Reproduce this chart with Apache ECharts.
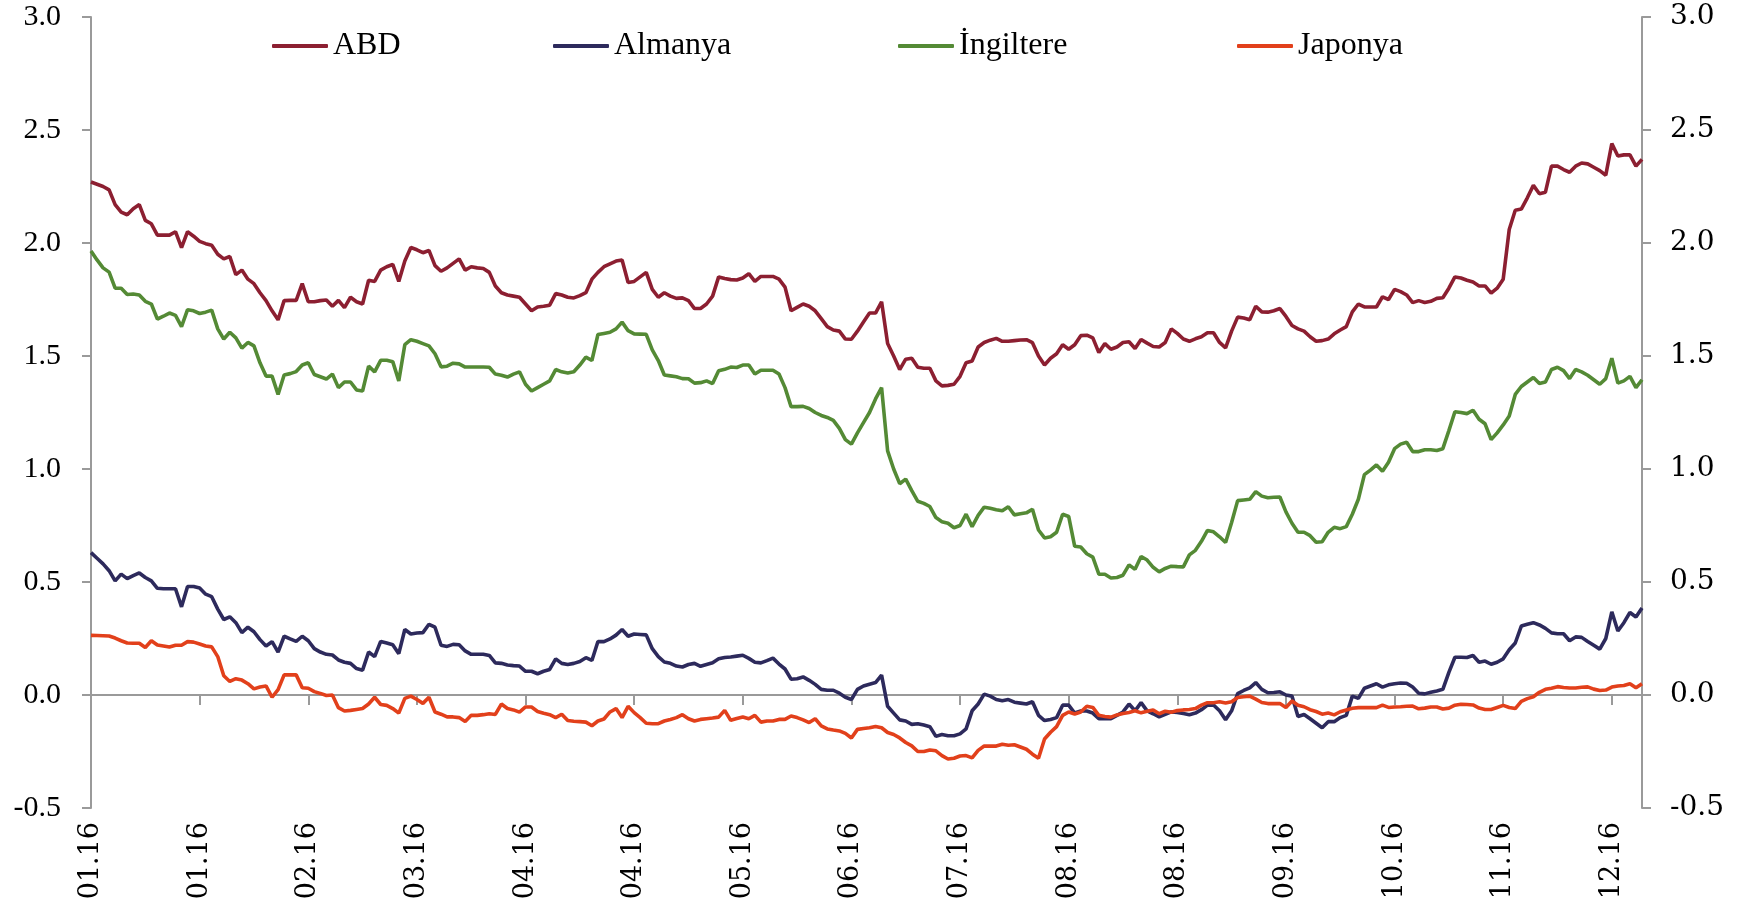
<!DOCTYPE html>
<html>
<head>
<meta charset="utf-8">
<title>Tahvil faizleri 2016</title>
<script src="https://cdn.jsdelivr.net/npm/echarts@6.0.0/dist/echarts.min.js"></script>
<style>
  html, body { margin: 0; padding: 0; background: #ffffff; }
  #root { width: 1742px; height: 911px; }
</style>
</head>
<body>
<div id="root"></div>
<script>
// x axis: one label every 18 trading days
var tickLabels = ['01.16', '01.16', '02.16', '03.16', '04.16', '04.16', '05.16', '06.16',
  '07.16', '08.16', '08.16', '09.16', '10.16', '11.16', '12.16'];
var labelStep = 18;

var seriesNames = ['ABD', 'Almanya', 'İngiltere', 'Japonya'];

var abd = [
  2.27, 2.26, 2.25, 2.235, 2.17, 2.137, 2.125, 2.152, 2.17, 2.10,
  2.085, 2.035, 2.035, 2.035, 2.05, 1.98, 2.05, 2.03, 2.007, 1.997,
  1.99, 1.95, 1.93, 1.94, 1.86, 1.88, 1.84, 1.82, 1.78, 1.745,
  1.70, 1.66, 1.745, 1.746, 1.746, 1.82, 1.74, 1.74, 1.745, 1.748,
  1.72, 1.746, 1.714, 1.76, 1.74, 1.73, 1.835, 1.83, 1.88, 1.895,
  1.905, 1.83, 1.92, 1.98, 1.97, 1.957, 1.967, 1.90, 1.875, 1.89,
  1.91, 1.93, 1.88, 1.895, 1.89, 1.887, 1.87, 1.81, 1.78, 1.77,
  1.765, 1.76, 1.73, 1.70, 1.717, 1.72, 1.725, 1.776, 1.77, 1.76,
  1.757, 1.767, 1.78, 1.84, 1.87, 1.895, 1.908, 1.92, 1.925, 1.825,
  1.83, 1.85, 1.87, 1.795, 1.76, 1.78, 1.765, 1.755, 1.757, 1.745,
  1.71, 1.71, 1.73, 1.765, 1.85, 1.843, 1.838, 1.836, 1.845, 1.864,
  1.83, 1.852, 1.852, 1.852, 1.84, 1.805, 1.70, 1.715, 1.73, 1.72,
  1.70, 1.665, 1.63, 1.615, 1.61, 1.575, 1.574, 1.61, 1.65, 1.69,
  1.69, 1.74, 1.555, 1.50, 1.44, 1.486, 1.49, 1.45, 1.446, 1.446,
  1.39, 1.368, 1.37, 1.375, 1.41, 1.47, 1.478, 1.54, 1.56, 1.57,
  1.578, 1.565, 1.565, 1.568, 1.571, 1.572, 1.559, 1.50, 1.46, 1.49,
  1.51, 1.55, 1.53, 1.55, 1.59, 1.592, 1.58, 1.515, 1.555, 1.53,
  1.54, 1.56, 1.563, 1.533, 1.573, 1.557, 1.542, 1.54, 1.56, 1.62,
  1.60, 1.575, 1.565, 1.576, 1.585, 1.603, 1.603, 1.56, 1.536, 1.61,
  1.672, 1.668, 1.66, 1.72, 1.695, 1.694, 1.70, 1.71, 1.675, 1.635,
  1.62, 1.61, 1.585, 1.565, 1.568, 1.575, 1.598, 1.615, 1.63, 1.695,
  1.73, 1.717, 1.717, 1.717, 1.762, 1.75, 1.795, 1.785, 1.77, 1.736,
  1.745, 1.737, 1.742, 1.755, 1.758, 1.80, 1.85, 1.845, 1.835, 1.827,
  1.81, 1.81, 1.778, 1.80, 1.84, 2.06, 2.145, 2.15, 2.20, 2.255,
  2.218, 2.225, 2.34, 2.34, 2.325, 2.313, 2.34, 2.354, 2.35, 2.335,
  2.32, 2.30, 2.44, 2.385, 2.39, 2.39, 2.34, 2.37
];

var almanya = [
  0.63, 0.605, 0.58, 0.55, 0.505, 0.535, 0.515, 0.528, 0.54, 0.52,
  0.505, 0.472, 0.47, 0.47, 0.47, 0.39, 0.48, 0.48, 0.473, 0.446,
  0.435, 0.38, 0.334, 0.346, 0.32, 0.276, 0.30, 0.28, 0.245, 0.217,
  0.236, 0.19, 0.26, 0.248, 0.237, 0.26, 0.24, 0.205, 0.19, 0.18,
  0.177, 0.155, 0.145, 0.14, 0.117, 0.11, 0.19, 0.17, 0.237, 0.23,
  0.222, 0.183, 0.29, 0.27, 0.274, 0.276, 0.313, 0.30, 0.22, 0.215,
  0.224, 0.222, 0.195, 0.18, 0.18, 0.18, 0.175, 0.142, 0.14, 0.133,
  0.13, 0.128, 0.105, 0.105, 0.094, 0.105, 0.113, 0.16, 0.14, 0.135,
  0.14, 0.148, 0.165, 0.153, 0.237, 0.236, 0.248, 0.265, 0.29, 0.26,
  0.27, 0.268, 0.266, 0.205, 0.17, 0.146, 0.14, 0.128, 0.124, 0.135,
  0.14, 0.127, 0.135, 0.143, 0.16, 0.166, 0.168, 0.172, 0.176, 0.162,
  0.145, 0.142, 0.152, 0.163, 0.137, 0.115, 0.07, 0.072, 0.08, 0.065,
  0.047, 0.025, 0.021, 0.021, 0.008, -0.01, -0.02, 0.025, 0.04, 0.048,
  0.055, 0.088, -0.05, -0.08, -0.11, -0.115, -0.13, -0.127, -0.133, -0.14,
  -0.183, -0.175, -0.18, -0.18, -0.172, -0.15, -0.07, -0.04, 0.004, -0.005,
  -0.02, -0.025, -0.02, -0.032, -0.036, -0.04, -0.03, -0.09, -0.113, -0.108,
  -0.10, -0.045, -0.045, -0.08, -0.071, -0.071, -0.08, -0.105, -0.105, -0.105,
  -0.09, -0.075, -0.04, -0.07, -0.034, -0.07, -0.083, -0.097, -0.086, -0.075,
  -0.077, -0.082, -0.087, -0.08, -0.065, -0.045, -0.044, -0.07, -0.11, -0.07,
  0.006, 0.02, 0.032, 0.055, 0.025, 0.01, 0.011, 0.014, 0.0, -0.005,
  -0.095, -0.086, -0.105, -0.125, -0.145, -0.118, -0.118, -0.10, -0.09, -0.005,
  -0.015, 0.03, 0.04, 0.05, 0.035, 0.045, 0.05, 0.053, 0.052, 0.035,
  0.008, 0.005, 0.012, 0.018, 0.025, 0.10, 0.167, 0.167, 0.166, 0.175,
  0.145, 0.15, 0.136, 0.145, 0.16, 0.20, 0.23, 0.305, 0.313, 0.32,
  0.31, 0.295, 0.275, 0.271, 0.271, 0.24, 0.257, 0.255, 0.237, 0.22,
  0.203, 0.25, 0.368, 0.283, 0.32, 0.365, 0.345, 0.385
];

var ingiltere = [
  1.965, 1.925, 1.89, 1.871, 1.80, 1.80, 1.772, 1.774, 1.77, 1.742,
  1.73, 1.663, 1.676, 1.69, 1.68, 1.63, 1.705, 1.70, 1.688, 1.694,
  1.703, 1.62, 1.575, 1.605, 1.58, 1.535, 1.56, 1.545, 1.47, 1.411,
  1.411, 1.33, 1.416, 1.422, 1.431, 1.46, 1.47, 1.418, 1.408, 1.398,
  1.42, 1.36, 1.385, 1.385, 1.35, 1.345, 1.455, 1.43, 1.481, 1.481,
  1.475, 1.39, 1.55, 1.572, 1.565, 1.555, 1.545, 1.51, 1.452, 1.455,
  1.468, 1.465, 1.451, 1.451, 1.451, 1.451, 1.45, 1.42, 1.415, 1.407,
  1.42, 1.43, 1.375, 1.345, 1.36, 1.375, 1.39, 1.44, 1.43, 1.425,
  1.43, 1.46, 1.495, 1.48, 1.595, 1.60, 1.605, 1.62, 1.65, 1.612,
  1.598, 1.597, 1.596, 1.527, 1.48, 1.416, 1.412, 1.408, 1.40, 1.399,
  1.38, 1.382, 1.39, 1.378, 1.435, 1.441, 1.451, 1.449, 1.46, 1.46,
  1.42, 1.437, 1.437, 1.437, 1.42, 1.36, 1.276, 1.276, 1.277, 1.268,
  1.25, 1.237, 1.228, 1.215, 1.18, 1.13, 1.11, 1.16, 1.205, 1.25,
  1.31, 1.36, 1.08, 1.00, 0.935, 0.955, 0.904, 0.857, 0.848, 0.834,
  0.785, 0.767, 0.76, 0.74, 0.75, 0.80, 0.745, 0.795, 0.831, 0.826,
  0.82, 0.815, 0.833, 0.797, 0.802, 0.806, 0.822, 0.73, 0.695, 0.70,
  0.72, 0.80, 0.79, 0.658, 0.655, 0.625, 0.61, 0.535, 0.534, 0.518,
  0.52, 0.53, 0.576, 0.556, 0.613, 0.597, 0.565, 0.545, 0.56, 0.57,
  0.568, 0.567, 0.62, 0.64, 0.68, 0.728, 0.722, 0.70, 0.675, 0.763,
  0.86, 0.863, 0.866, 0.90, 0.88, 0.873, 0.875, 0.876, 0.81, 0.76,
  0.72, 0.72, 0.705, 0.676, 0.678, 0.72, 0.742, 0.736, 0.745, 0.80,
  0.866, 0.975, 0.995, 1.018, 0.99, 1.03, 1.09, 1.11, 1.118, 1.077,
  1.077, 1.085, 1.085, 1.082, 1.09, 1.17, 1.253, 1.25, 1.245, 1.26,
  1.22, 1.20, 1.13, 1.16, 1.195, 1.235, 1.33, 1.365, 1.385, 1.405,
  1.378, 1.385, 1.44, 1.45, 1.435, 1.40, 1.44, 1.43, 1.415, 1.395,
  1.375, 1.40, 1.49, 1.38, 1.39, 1.41, 1.36, 1.395
];

var japonya = [
  0.264, 0.263, 0.262, 0.261, 0.252, 0.24, 0.23, 0.229, 0.229, 0.21,
  0.24, 0.221, 0.217, 0.212, 0.22, 0.22, 0.236, 0.234, 0.226, 0.217,
  0.213, 0.17, 0.085, 0.06, 0.072, 0.066, 0.05, 0.027, 0.035, 0.04,
  -0.01, 0.024, 0.089, 0.089, 0.089, 0.032, 0.03, 0.015, 0.007, -0.002,
  0.0, -0.056, -0.071, -0.068, -0.064, -0.06, -0.04, -0.01, -0.042, -0.046,
  -0.06, -0.08, -0.015, -0.005, -0.02, -0.037, -0.01, -0.075, -0.085, -0.097,
  -0.097, -0.10, -0.117, -0.09, -0.09, -0.087, -0.083, -0.086, -0.04, -0.06,
  -0.066, -0.076, -0.053, -0.053, -0.073, -0.081, -0.087, -0.10, -0.085, -0.113,
  -0.116, -0.118, -0.12, -0.136, -0.115, -0.106, -0.075, -0.06, -0.10, -0.05,
  -0.078, -0.10, -0.125, -0.127, -0.127, -0.115, -0.108, -0.10, -0.087, -0.105,
  -0.115, -0.108, -0.105, -0.102, -0.098, -0.068, -0.112, -0.104, -0.097, -0.105,
  -0.09, -0.12, -0.115, -0.115, -0.108, -0.108, -0.093, -0.10, -0.11, -0.122,
  -0.105, -0.137, -0.15, -0.155, -0.159, -0.17, -0.19, -0.152, -0.148, -0.145,
  -0.139, -0.145, -0.166, -0.175, -0.19, -0.21, -0.225, -0.25, -0.25, -0.243,
  -0.247, -0.268, -0.283, -0.28, -0.27, -0.268, -0.278, -0.245, -0.226, -0.226,
  -0.226, -0.218, -0.222, -0.22, -0.23, -0.24, -0.262, -0.28, -0.195, -0.165,
  -0.14, -0.09, -0.075, -0.084, -0.075, -0.05, -0.055, -0.09, -0.095, -0.098,
  -0.088, -0.082, -0.077, -0.07, -0.079, -0.072, -0.066, -0.083, -0.072, -0.076,
  -0.069, -0.066, -0.064, -0.06, -0.045, -0.034, -0.034, -0.03, -0.035, -0.03,
  -0.011, -0.008, -0.005, -0.018, -0.033, -0.038, -0.038, -0.038, -0.055, -0.027,
  -0.045, -0.052, -0.065, -0.073, -0.085, -0.08, -0.088, -0.074, -0.066, -0.059,
  -0.056, -0.056, -0.056, -0.056, -0.045, -0.055, -0.053, -0.052, -0.05, -0.049,
  -0.061, -0.058, -0.053, -0.053, -0.062, -0.058, -0.045, -0.041, -0.042, -0.044,
  -0.058, -0.064, -0.064, -0.055, -0.046, -0.055, -0.06, -0.028, -0.016, -0.008,
  0.012, 0.025, 0.03, 0.037, 0.033, 0.031, 0.031, 0.034, 0.036, 0.026,
  0.02, 0.022, 0.035, 0.04, 0.042, 0.05, 0.032, 0.05
];

var seriesData = [abd, almanya, ingiltere, japonya];
var seriesColors = ['#8c1f31', '#2d2a5c', '#548a35', '#e2401b'];
// left edge of each legend entry, px
var legendLeft = [272, 553, 898, 1237];

// one category per trading day
var days = abd.map(function (v, i) { return String(i); });

var axisGray = '#9a9a9a';

var myChart = echarts.init(document.getElementById('root'), null, { renderer: 'canvas' });

var option = {
  animation: false,
  backgroundColor: '#ffffff',
  // one legend per entry so each can sit where the original puts it
  legend: seriesNames.map(function (name, k) {
    return {
      left: legendLeft[k],
      top: 30,
      padding: 0,
      icon: 'roundRect',
      itemWidth: 56,
      itemHeight: 4,
      data: [name],
      textStyle: {
        fontFamily: 'Liberation Serif',
        fontSize: 32,
        color: '#000000'
      }
    };
  }),
  grid: {
    left: 91,
    right: 100,
    top: 17,
    bottom: 103
  },
  xAxis: [
    {
      // axis line drawn through zero, with the month ticks
      type: 'category',
      data: days,
      boundaryGap: false,
      position: 'bottom',
      axisLine: { onZero: true, lineStyle: { color: axisGray, width: 2 } },
      axisTick: { show: true, interval: labelStep - 1, length: 10, lineStyle: { color: axisGray, width: 2 } },
      axisLabel: { show: false },
      splitLine: { show: false }
    },
    {
      // month labels at the bottom of the plot
      type: 'category',
      data: days,
      boundaryGap: false,
      position: 'bottom',
      axisLine: { show: false, onZero: false },
      axisTick: { show: false },
      axisLabel: {
        interval: labelStep - 1,
        rotate: 90,
        margin: 14,
        fontFamily: 'DejaVu Serif',
        fontSize: 27,
        color: '#000000',
        formatter: function (value, idx) {
          return tickLabels[Math.round(idx / labelStep)] || '';
        }
      },
      splitLine: { show: false }
    }
  ],
  yAxis: [
    {
      type: 'value',
      position: 'left',
      min: -0.5,
      max: 3.0,
      interval: 0.5,
      axisLine: { show: true, lineStyle: { color: axisGray, width: 2 } },
      axisTick: { show: true, length: 9, lineStyle: { color: axisGray, width: 2 } },
      axisLabel: {
        margin: 30,
        fontFamily: 'Liberation Serif',
        fontSize: 30,
        color: '#000000',
        formatter: function (v) { return v.toFixed(1); }
      },
      splitLine: { show: false }
    },
    {
      type: 'value',
      position: 'right',
      min: -0.5,
      max: 3.0,
      interval: 0.5,
      axisLine: { show: true, lineStyle: { color: axisGray, width: 2 } },
      axisTick: { show: true, length: 9, lineStyle: { color: axisGray, width: 2 } },
      axisLabel: {
        margin: 28,
        fontFamily: 'DejaVu Serif',
        fontSize: 28,
        color: '#000000',
        formatter: function (v) { return v.toFixed(1); }
      },
      splitLine: { show: false }
    }
  ],
  series: seriesNames.map(function (name, k) {
    return {
      name: name,
      type: 'line',
      xAxisIndex: 0,
      yAxisIndex: 0,
      data: seriesData[k],
      symbol: 'none',
      showSymbol: false,
      color: seriesColors[k],
      lineStyle: { color: seriesColors[k], width: 3.6 }
    };
  })
};

if (option && typeof option === 'object') {
  myChart.setOption(option);
}

window.addEventListener('resize', myChart.resize);
</script>
</body>
</html>
